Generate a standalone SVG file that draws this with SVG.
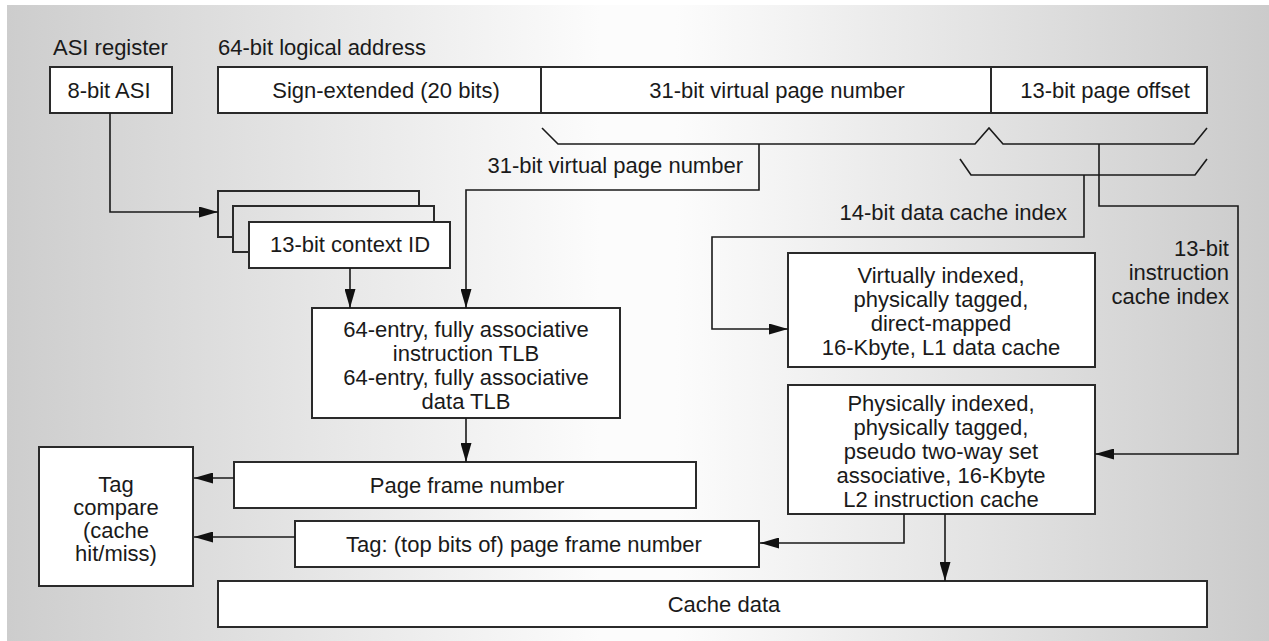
<svg xmlns="http://www.w3.org/2000/svg" width="1269" height="641" viewBox="0 0 1269 641">
<defs>
<linearGradient id="bg" gradientUnits="userSpaceOnUse" x1="7" y1="0" x2="1269" y2="0">
<stop offset="0" stop-color="#cdcdcd"/>
<stop offset="0.47" stop-color="#fcfcfc"/>
<stop offset="0.53" stop-color="#fcfcfc"/>
<stop offset="1" stop-color="#cbcbcb"/>
</linearGradient>
<marker id="ah" markerUnits="userSpaceOnUse" markerWidth="19" markerHeight="11" refX="19" refY="5.5" orient="auto">
<path d="M0,0 L19,5.5 L0,11 z" fill="#111"/>
</marker>
<style>
.box{fill:#fff;stroke:#2a2a2a;stroke-width:2}
.ghost{fill:url(#bg);stroke:#2a2a2a;stroke-width:2}
.t{font-family:"Liberation Sans",Arial,sans-serif;font-size:22px;fill:#1a1a1a}
.c{text-anchor:middle}
.r{text-anchor:end}
.ln{fill:none;stroke:#1a1a1a;stroke-width:1.6}
.ar{marker-end:url(#ah)}
</style>
</defs>
<rect x="0" y="0" width="1269" height="641" fill="#fff"/>
<rect x="7" y="5" width="1262" height="636" fill="url(#bg)"/>

<text class="t" x="53" y="55">ASI register</text>
<text class="t" x="218" y="55">64-bit logical address</text>

<g id="asi">
<rect class="box" x="50" y="67" width="122" height="46"/>
<text class="t c" x="109" y="98">8-bit ASI</text>
</g>

<g id="address">
<rect class="box" x="218" y="67" width="989" height="46"/>
<line x1="541" y1="67" x2="541" y2="113" stroke="#2a2a2a" stroke-width="2"/>
<line x1="991" y1="67" x2="991" y2="113" stroke="#2a2a2a" stroke-width="2"/>
<text class="t c" x="386" y="98">Sign-extended (20 bits)</text>
<text class="t c" x="777" y="98">31-bit virtual page number</text>
<text class="t c" x="1105" y="98">13-bit page offset</text>
</g>

<g id="braces">
<path class="ln" d="M542,128 L558,144 L975,144 L989,128 L1003,144 L1194,144 L1207,128"/>
<path class="ln" d="M960,159 L971,175 L1195,175 L1207,159"/>
</g>

<g id="context">
<rect class="ghost" x="218" y="191" width="201" height="46"/>
<rect class="ghost" x="233" y="206" width="201" height="46"/>
<rect class="box" x="249" y="222" width="201" height="46"/>
<text class="t c" x="350" y="252">13-bit context ID</text>
</g>

<g id="tlb">
<rect class="box" x="312" y="308" width="308" height="110"/>
<text class="t c" x="466" y="337">64-entry, fully associative</text>
<text class="t c" x="466" y="361">instruction TLB</text>
<text class="t c" x="466" y="385">64-entry, fully associative</text>
<text class="t c" x="466" y="409">data TLB</text>
</g>

<g id="l1">
<rect class="box" x="788" y="253" width="307" height="114"/>
<text class="t c" x="941" y="283">Virtually indexed,</text>
<text class="t c" x="941" y="307">physically tagged,</text>
<text class="t c" x="941" y="331">direct-mapped</text>
<text class="t c" x="941" y="355">16-Kbyte, L1 data cache</text>
</g>

<g id="l2">
<rect class="box" x="788" y="385" width="307" height="129"/>
<text class="t c" x="941" y="411">Physically indexed,</text>
<text class="t c" x="941" y="435">physically tagged,</text>
<text class="t c" x="941" y="459">pseudo two-way set</text>
<text class="t c" x="941" y="483">associative, 16-Kbyte</text>
<text class="t c" x="941" y="507">L2 instruction cache</text>
</g>

<g id="tagcompare">
<rect class="box" x="39" y="447" width="154" height="139"/>
<text class="t c" x="116" y="492">Tag</text>
<text class="t c" x="116" y="515">compare</text>
<text class="t c" x="116" y="538">(cache</text>
<text class="t c" x="116" y="561">hit/miss)</text>
</g>

<g id="pfn">
<rect class="box" x="234" y="462" width="462" height="46"/>
<text class="t c" x="467" y="493">Page frame number</text>
</g>

<g id="tag">
<rect class="box" x="295" y="521" width="464" height="46"/>
<text class="t c" x="524" y="552">Tag: (top bits of) page frame number</text>
</g>

<g id="cachedata">
<rect class="box" x="218" y="581" width="989" height="46"/>
<text class="t c" x="724" y="612">Cache data</text>
</g>

<g id="labels">
<text class="t r" x="743" y="173">31-bit virtual page number</text>
<text class="t r" x="1067" y="220">14-bit data cache index</text>
<text class="t r" x="1229" y="256">13-bit</text>
<text class="t r" x="1229" y="280">instruction</text>
<text class="t r" x="1229" y="304">cache index</text>
</g>

<g id="connectors">
<path class="ln ar" d="M110,113 V212 H218"/>
<path class="ln ar" d="M759,144 V190 H466 V308"/>
<path class="ln ar" d="M350,268 V308"/>
<path class="ln ar" d="M466,418 V462"/>
<path class="ln ar" d="M234,478 H194"/>
<path class="ln ar" d="M295,537 H194"/>
<path class="ln ar" d="M1084,175 V237 H712 V329 H788"/>
<path class="ln ar" d="M1099,144 V206 H1238 V454 H1095"/>
<path class="ln ar" d="M904,514 V543 H760"/>
<path class="ln ar" d="M945,514 V581"/>
</g>
</svg>
